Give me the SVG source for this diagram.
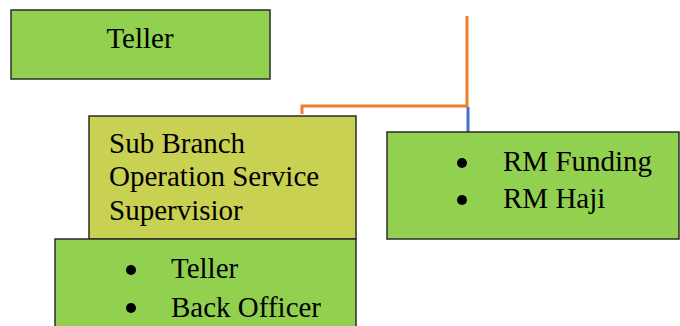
<svg xmlns="http://www.w3.org/2000/svg" width="680" height="326" viewBox="0 0 680 326">
<style>
.box{stroke:#2b2b2b;stroke-width:1.5}
.g{fill:#92D050}
.y{fill:#C9D152}
.t{font-family:"Liberation Serif","Times New Roman",serif;font-size:29px;fill:#000}
.or{stroke:#ED7D31;stroke-width:3;fill:none}
.bl{stroke:#4472C4;stroke-width:3;fill:none}
</style>
<rect width="680" height="326" fill="#fff"/>
<g id="connectors">
<path class="or" d="M467 16 V106 H302 V114"/>
<path class="bl" d="M468 107 V132"/>
</g>
<g id="teller">
<rect class="box g" x="11" y="10" width="259" height="69"/>
<text class="t" x="140" y="48" text-anchor="middle">Teller</text>
</g>
<g id="supervisor">
<rect class="box y" x="89" y="116" width="267" height="123"/>
<text class="t" x="109" y="153">Sub Branch</text>
<text class="t" x="109" y="186">Operation Service</text>
<text class="t" x="109" y="219.5">Supervisior</text>
</g>
<g id="staff">
<rect class="box g" x="55" y="239" width="301" height="95"/>
<circle cx="131" cy="270" r="5"/>
<circle cx="131" cy="308" r="5"/>
<text class="t" x="171" y="278">Teller</text>
<text class="t" x="171" y="317">Back Officer</text>
</g>
<g id="rm">
<rect class="box g" x="387" y="132" width="292" height="107"/>
<circle cx="462" cy="163" r="5"/>
<circle cx="462" cy="200" r="5"/>
<text class="t" x="503" y="171">RM Funding</text>
<text class="t" x="503" y="208">RM Haji</text>
</g>
</svg>
